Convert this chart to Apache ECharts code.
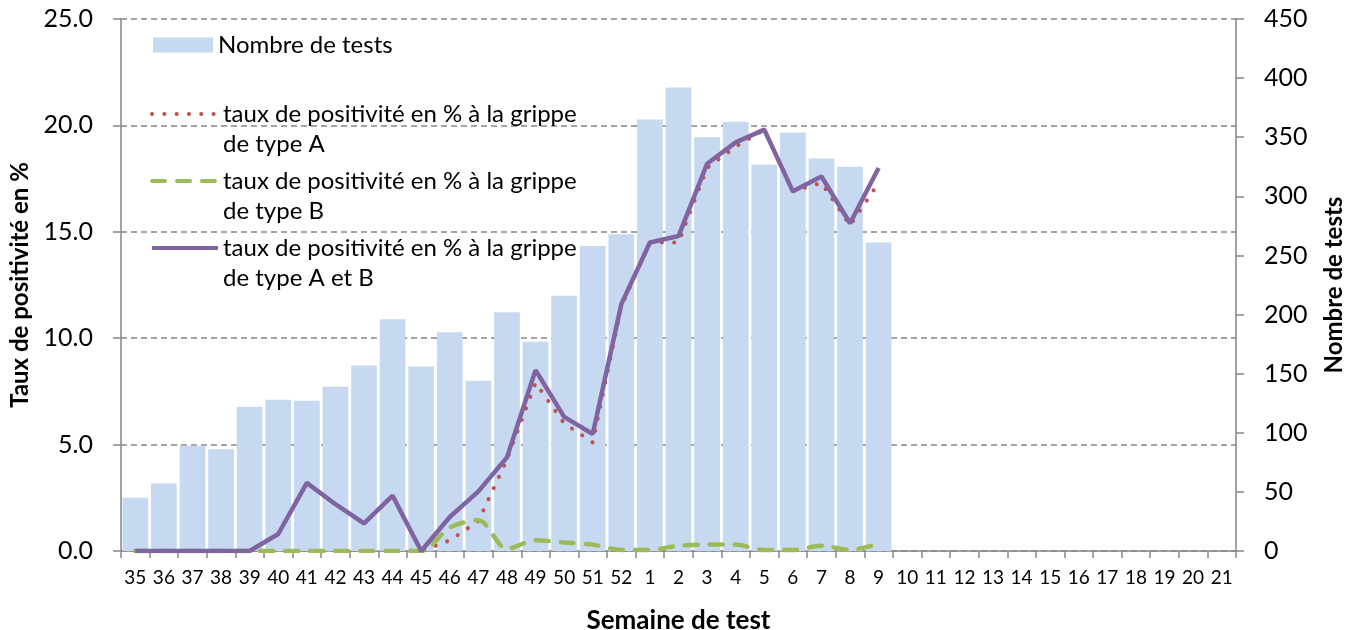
<!DOCTYPE html>
<html>
<head>
<meta charset="utf-8">
<script src="https://cdn.jsdelivr.net/npm/echarts@6/dist/echarts.min.js"></script>
<style>
html, body { margin: 0; padding: 0; background: #fff; }
#chart { width: 1352px; height: 630px; }
</style>
</head>
<body>
<div id="chart"></div>
<script>
// semaines 35 -> 52 puis 1 -> 21
const weeks = ['35','36','37','38','39','40','41','42','43','44','45','46','47','48','49','50','51','52',
  '1','2','3','4','5','6','7','8','9','10','11','12','13','14','15','16','17','18','19','20','21']

const nbTests = [45, 57, 89, 86, 122, 128, 127, 139, 157, 196, 156, 185, 144, 202, 177, 216, 258, 268,
  365, 392, 350, 363, 327, 354, 332, 325, 261]

const tauxA = [0, 0, 0, 0, 0, 0.8, 3.2, 2.2, 1.3, 2.6, 0, 0.5, 1.4, 4.3, 7.9, 6.0, 5.1, 11.5,
  14.5, 14.5, 18.0, 19.0, 19.8, 16.9, 17.3, 15.3, 17.3]

const tauxB = [0, 0, 0, 0, 0, 0, 0, 0, 0, 0, 0, 1.1, 1.45, 0.1, 0.5, 0.4, 0.3, 0.05,
  0.05, 0.25, 0.3, 0.3, 0.05, 0.05, 0.25, 0.05, 0.35]

const tauxAB = [0, 0, 0, 0, 0, 0.8, 3.2, 2.2, 1.3, 2.6, 0, 1.6, 2.8, 4.4, 8.5, 6.3, 5.5, 11.6,
  14.5, 14.8, 18.2, 19.2, 19.8, 16.9, 17.6, 15.4, 18.0]

const leftTicks = { min: 0, max: 25, interval: 5 }
const rightTicks = { min: 0, max: 450, interval: 50 }

const FONT = 'Lato'
const GREY = '#868686'

const chart = echarts.init(document.getElementById('chart'))

const nameBar = 'Nombre de tests'
const nameA = 'taux de positivité en % à la grippe de type A'
const nameB = 'taux de positivité en % à la grippe de type B'
const nameAB = 'taux de positivité en % à la grippe de type A et B'

// one legend box per item so each can sit where it is in the original
function legendFor(name, left, top, w) {
  const isBar = name === nameBar
  const lg = {
    show: true,
    data: [name],
    left: left,
    top: top,
    padding: 0,
    itemWidth: w,
    itemHeight: 15,
    itemGap: 0,
    selectedMode: false,
    formatter: function (n) {
      if (isBar) return n
      // blank first line so the icon lines up with the first text line
      return ' \n' + n.replace(' de type', '\nde type')
    },
    textStyle: { fontFamily: FONT, fontSize: 24, color: '#000', lineHeight: 30 }
  }
  if (isBar) {
    lg.icon = 'rect'
  } else {
    // hide the little symbol on the line icons, keep the line
    lg.itemStyle = { opacity: 0 }
    lg.lineStyle = { width: 4 }
  }
  return lg
}

const option = {
  animation: false,
  backgroundColor: '#fff',
  textStyle: { fontFamily: FONT },
  grid: { left: 121, right: 116, top: 19, bottom: 79, containLabel: false, outerBoundsMode: 'none' },
  legend: [
    legendFor(nameBar, 153, 30, 60),
    legendFor(nameA, 150, 69, 66),
    legendFor(nameB, 150, 136, 66),
    legendFor(nameAB, 150, 203, 66)
  ],
  xAxis: {
    type: 'category',
    data: weeks,
    boundaryGap: true,
    name: 'Semaine de test',
    nameLocation: 'middle',
    nameGap: 57,
    nameTextStyle: { fontFamily: FONT, fontSize: 26, fontWeight: 'bold', color: '#000' },
    axisLine: { lineStyle: { color: GREY, width: 1.5 } },
    axisTick: { show: true, interval: 0, length: 7, lineStyle: { color: GREY, width: 1.5 } },
    axisLabel: { interval: 0, margin: 17, fontFamily: FONT, fontSize: 19, color: '#000' }
  },
  yAxis: [
    {
      type: 'value',
      position: 'left',
      min: leftTicks.min, max: leftTicks.max, interval: leftTicks.interval,
      name: 'Taux de positivité en %',
      nameLocation: 'middle',
      nameRotate: 90,
      nameGap: 82,
      nameTextStyle: { fontFamily: FONT, fontSize: 24, fontWeight: 'bold', color: '#000' },
      axisLine: { show: true, lineStyle: { color: GREY, width: 1.5 } },
      axisTick: { show: true, length: 8, lineStyle: { color: GREY, width: 1.5 } },
      axisLabel: { margin: 28, fontFamily: FONT, fontSize: 25, color: '#000',
        formatter: v => v.toFixed(1) },
      splitLine: { show: true, lineStyle: { color: GREY, width: 1.5, type: [6, 4] } }
    },
    {
      type: 'value',
      position: 'right',
      min: rightTicks.min, max: rightTicks.max, interval: rightTicks.interval,
      name: 'Nombre de tests',
      nameLocation: 'middle',
      nameRotate: 90,
      nameGap: 86,
      nameTextStyle: { fontFamily: FONT, fontSize: 24, fontWeight: 'bold', color: '#000' },
      axisLine: { show: true, lineStyle: { color: GREY, width: 1.5 } },
      axisTick: { show: true, length: 8, lineStyle: { color: GREY, width: 1.5 } },
      axisLabel: { margin: 28, fontFamily: FONT, fontSize: 25, color: '#000' },
      splitLine: { show: false }
    }
  ],
  series: [
    {
      name: nameBar,
      type: 'bar',
      yAxisIndex: 1,
      data: nbTests,
      barCategoryGap: '10%',
      itemStyle: { color: '#c6d9f0' }
    },
    {
      name: nameA,
      type: 'line',
      yAxisIndex: 0,
      data: tauxA,
      symbol: 'none',
      lineStyle: { color: '#c0504d', width: 4, type: [0.1, 12.2], cap: 'round' },
      itemStyle: { color: '#c0504d' }
    },
    {
      name: nameB,
      type: 'line',
      yAxisIndex: 0,
      data: tauxB,
      symbol: 'none',
      smooth: 0.3,
      lineStyle: { color: '#9bbb59', width: 4.5, type: [13, 12], cap: 'round' },
      itemStyle: { color: '#9bbb59' }
    },
    {
      name: nameAB,
      type: 'line',
      yAxisIndex: 0,
      data: tauxAB,
      symbol: 'none',
      lineStyle: { color: '#8064a2', width: 4.5 },
      itemStyle: { color: '#8064a2' }
    }
  ]
}

chart.setOption(option)
</script>
</body>
</html>
